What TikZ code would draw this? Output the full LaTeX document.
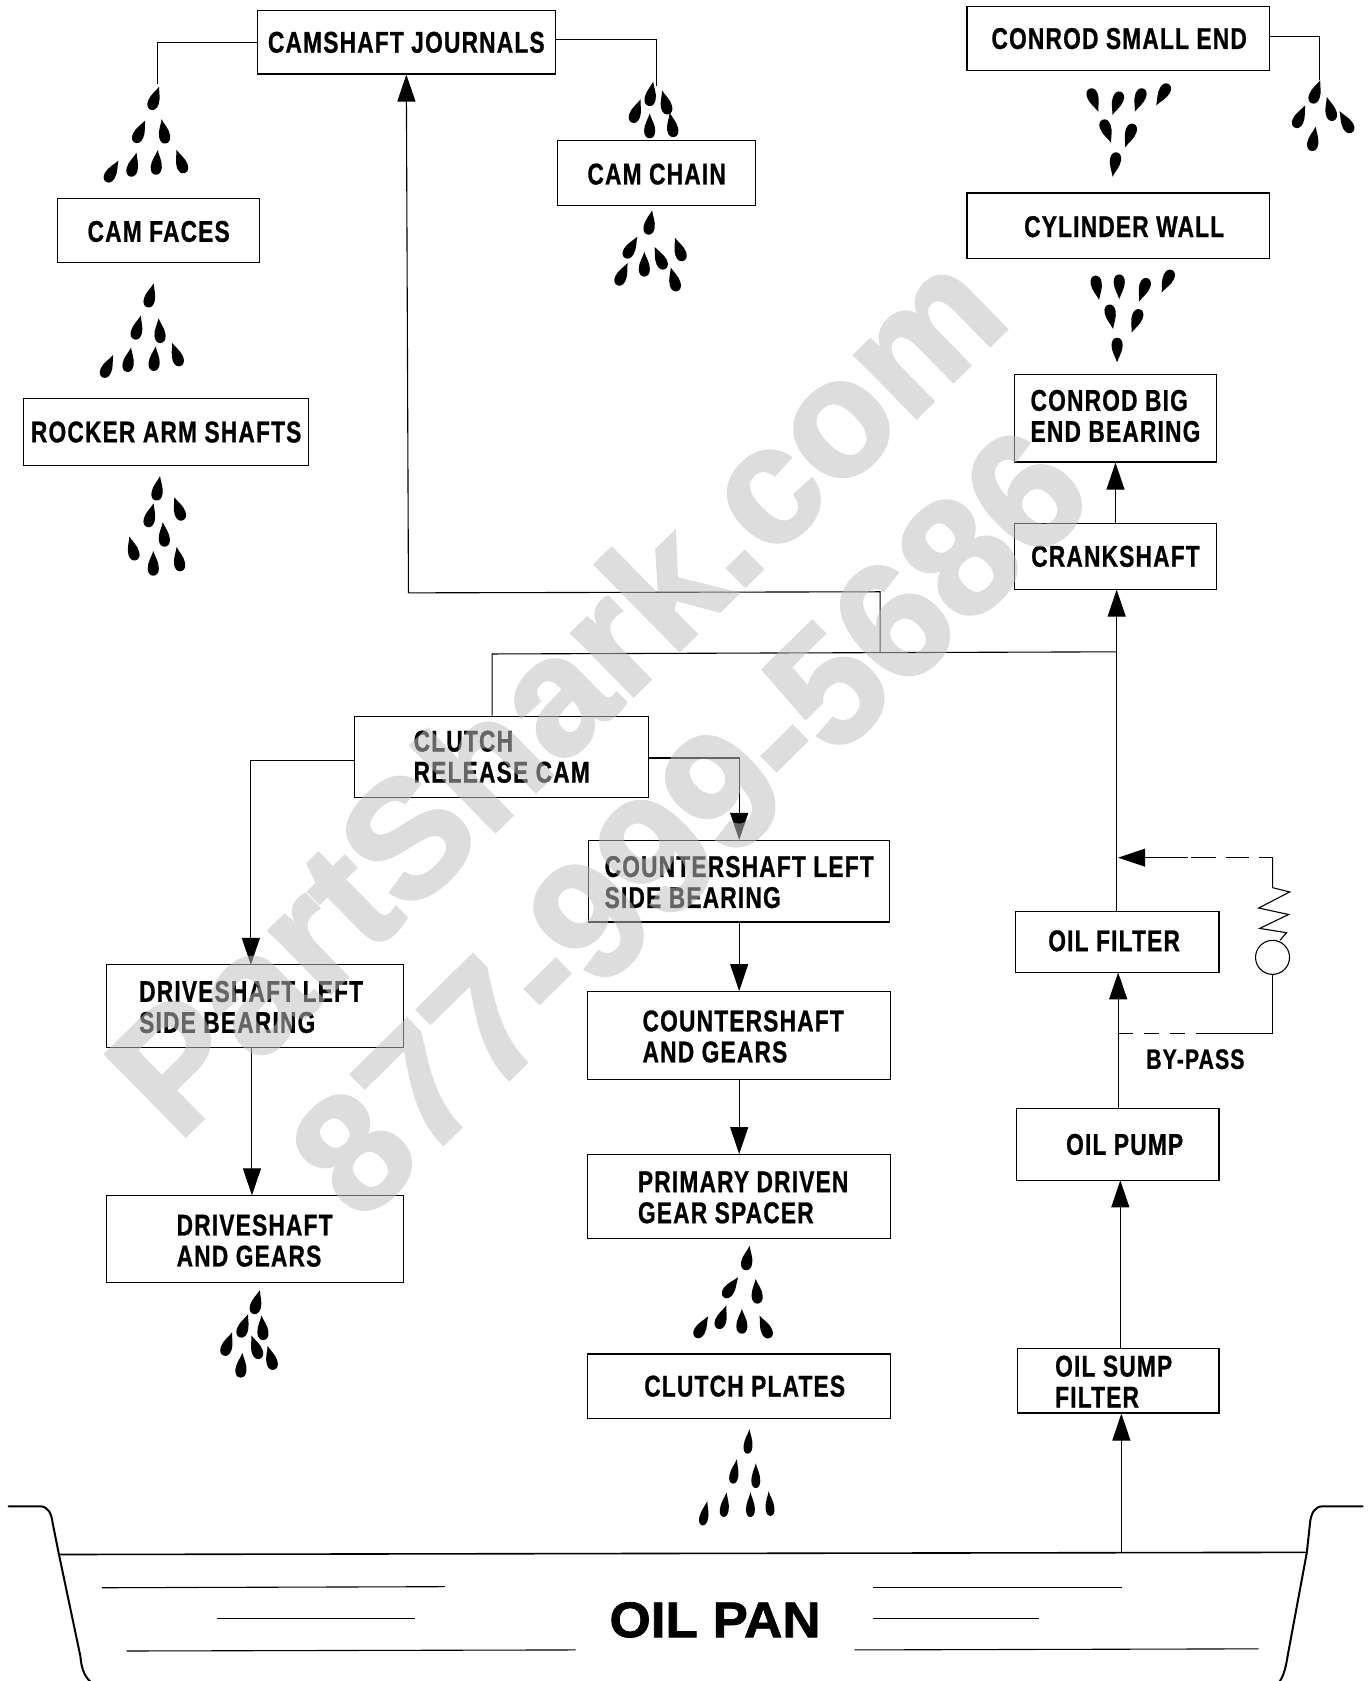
\documentclass[tikz,border=0pt]{standalone}
\usepackage{fontspec}
\setmainfont{Liberation Sans}[FakeStretch=0.757,LetterSpace=4,BoldFeatures={FakeBold=0.8}]
\newfontfamily\panfont{Liberation Sans}[FakeStretch=1.06,BoldFeatures={FakeBold=1.5}]
\newfontfamily\markfont{Liberation Sans}[BoldFeatures={FakeBold=2}]
\usetikzlibrary{arrows.meta,calc}
\tikzset{
  box/.style={draw=black,line width=1.15pt,inner sep=0pt,align=left,font=\fontsize{30}{31}\selectfont\bfseries,fill=white},
  flow/.style={draw=black,line width=1.1pt,-{Triangle[length=27pt,width=18pt]}},
  plainline/.style={draw=black,line width=1.1pt},
  dropfill/.style={fill=black,draw=none},
  panline/.style={draw=black,line width=2pt},
  liquid/.style={draw=black,line width=1.1pt},
  dashline/.style={draw=black,line width=1.1pt,dash pattern=on 15pt off 11pt},
  wmark/.style={font=\fontsize{166}{166}\selectfont\markfont\bfseries,text=black!25,inner sep=0pt,rotate=44.5}
}
\newcommand{\bx}[6]{\path let \n1={#4-#2},\n2={#5-#3} in
  node[box,minimum width=\n1*1.0719pt,minimum height=\n2*1.0719pt] (#1) at ({(#2+#4)/2},{(#3+#5)/2}) {#6};}
\newcommand{\low}[2]{\raisebox{-#1pt}[\height][\depth]{#2}}
\newcommand{\two}[2]{\begin{tabular}{@{}l@{}}#1\\#2\end{tabular}}
\def\dw{1}
\newcommand{\dropat}[3]{\path[dropfill,shift={(#1,#2)},rotate=-#3,xscale=\dw]
  (0,-13) .. controls (-1.5,-8) and (-5.2,-3) .. (-5.2,3) .. controls (-5.2,7.5) and (-3,10) .. (0,10)
  .. controls (3,10) and (5.2,7.5) .. (5.2,3) .. controls (5.2,-3) and (1.5,-8) .. (0,-13) -- cycle;}
\begin{document}
\begin{tikzpicture}[x=1.0719pt,y=-1.0719pt]
\useasboundingbox (0,0) rectangle (1279,1568);
\fill[white] (0,0) rectangle (1279,1568);
\clip (0,0) rectangle (1279,1568);
% boxes
\bx{cj}{240}{10}{518}{69}{CAMSHAFT JOURNALS}
\bx{cf}{54}{185}{242}{245}{\low{1}{CAM FACES}}
\bx{ra}{22}{372}{288}{434}{ROCKER ARM SHAFTS}
\bx{cc}{520}{131}{705}{192}{\low{1}{CAM CHAIN}}
\bx{cs}{902}{6}{1184}{66}{\kern2pt CONROD SMALL END}
\bx{cw}{902}{180}{1184}{241}{\kern12pt\low{1}{CYLINDER WALL}}
\bx{cb}{946}{349}{1135}{431}{\low{2}{\two{CONROD BIG}{END BEARING}}}
\bx{cr}{946}{488}{1135}{550}{CRANKSHAFT}
\bx{cl}{331}{668}{605}{744}{\low{4}{\two{CLUTCH}{RELEASE CAM}}}
\bx{cl2}{549}{784}{830}{860}{\low{5}{\two{COUNTERSHAFT LEFT}{SIDE BEARING}}}
\bx{cg}{548}{925}{831}{1007}{\kern8pt\low{5}{\two{COUNTERSHAFT}{AND GEARS}}}
\bx{dl}{99}{900}{376}{977}{\low{5}{\two{DRIVESHAFT LEFT}{SIDE BEARING}}\kern7pt}
\bx{dg}{99}{1115}{376}{1196}{\low{6}{\two{DRIVESHAFT}{AND GEARS}}}
\bx{pd}{548}{1077}{831}{1155}{\kern8pt\low{5}{\two{PRIMARY DRIVEN}{GEAR SPACER}}}
\bx{cp}{548}{1263}{831}{1323}{\kern11pt CLUTCH PLATES}
\bx{of}{947}{850}{1137}{907}{\low{-1}{OIL FILTER}\kern6pt}
\bx{op}{948}{1034}{1137}{1101}{\kern14pt OIL PUMP}
\bx{os}{949}{1258}{1137}{1318}{\low{5}{\two{OIL SUMP}{FILTER}}\kern9pt}
% free ends
\coordinate (camL) at (147,78);
\coordinate (camR) at (612,80);
\coordinate (smallR) at (1231,75);
\coordinate (panIn) at (1046,1449);
\coordinate (j1) at (1041.6,608);
\coordinate (j2) at (821,608);
\coordinate (j3) at (821,552);
\coordinate (j4) at (381,553);
\coordinate (j5) at (459,610);
\coordinate (byIn) at (1043,964);
\coordinate (byOut) at (1043,800);
\coordinate (byR) at (1188,964);
\coordinate (byT) at (1187,800);
% connectors
\draw[plainline] (cj.west) -| (camL);
\draw[plainline] (cj.east |- 0,37) -| (camR);
\draw[plainline] (cs.east |- 0,34) -| (smallR);
\draw[flow] (panIn) -- (panIn |- os.south);
\draw[flow] (1045,1258) -- (1045,1101);
\draw[flow] (1043,1034) -- (1043,907);
\draw[flow] (1041.6,850) -- (1041.6,550);
\draw[flow] (cr.north) -- (cb.south);
\draw[plainline] (j1) -- (j5) -- (cl.north -| j5);
\draw[plainline] (j2) -- (j3) -- (j4);
\draw[flow] (j4) -- (cj.south);
\draw[flow] (cl.west |- 0,709) -| (234,900);
\draw[flow] (cl.east |- 0,707) -| (cl2.north);
\draw[flow] (cl2.south) -- (cl2.south |- cg.north);
\draw[flow] (cl2.south |- cg.south) -- (cl2.south |- pd.north);
\draw[flow] (235,977) -- (235,1115);
% by-pass
\node[circle,draw=black,line width=1.1pt,minimum size=34pt,inner sep=0pt] (valve) at (1187,893) {};
\draw[plainline] (valve.south) -- (valve.south |- byR) -- (1130,964);
\draw[dashline] (byIn) -- (1130,964);
\path[draw=black,line width=1.1pt] (byT) -- (1187,828) -- (1203,832) -- (1174,847) -- (1202,853) -- (1175,866) -- (1200,870) -- (1194,877);
\draw[dashline,dash pattern=on 14pt off 10pt on 23pt off 10pt on 25pt off 13pt on 20pt off 0pt] (byT) -- (1108,800);
\draw[flow] (1108,800) -- (byOut);
\node[font=\fontsize{28}{29}\selectfont\bfseries,inner sep=0pt] (bypass) at (1115,988) {BY-PASS};
% drops
\foreach \a/\b/\t in {
 144/93/20,130/124/25,153/124/-10,104/161/30,124/155/15,146/153/5,169/152/-20,
 140/277/15,128/307/15,149/310/-5,100/343/25,120/337/10,144/336/5,165/332/-20,
 147/457/10,140/482/15,167/476/-20,153/500/-5,124/513/-15,143/527/0,167/523/-10,
 607/89/10,593/105/20,621/97/-15,606/119/0,627/118/-10,
 606/209/10,588/232/30,634/234/-20,616/242/-25,601/248/0,580/257/25,629/262/-15,
 1020/92/160,1042/95/200,1063/92/200,1085/87/210,1032/121/160,1054/125/200,1040/152/190,
 1227/87/20,1241/103/-15,1212/110/25,1256/115/-30,1225/131/10,
 1023/267/170,1044/266/180,1067/269/200,1089/261/205,1036/294/170,1060/298/200,1042/325/180,
 239/1216/15,227/1238/20,245/1240/-5,212/1255/20,239/1258/-20,253/1268/-15,225/1275/5,
 697/1175/10,681/1202/35,706/1206/-5,673/1230/20,692/1234/0,714/1239/-25,654/1239/30}
 {\dropat{\a}{\b}{\t}}
\def\dw{0.8}
\foreach \a/\b/\t in {698/1346/5,685/1374/10,705/1378/0,657/1413/12,676/1405/8,700/1405/0,718/1404/-5}
 {\dropat{\a}{\b}{\t}}
% oil pan
\draw[panline,line cap=round] (8,1405) -- (37,1405) .. controls (45,1405) and (48,1412) .. (49,1420) -- (55,1450) -- (75,1545) .. controls (76,1558) and (80,1568) .. (90,1572);
\draw[panline,line cap=round] (1271,1405) -- (1234,1405) .. controls (1226,1405) and (1223,1412) .. (1222,1420) -- (1219,1448) -- (1201,1545) .. controls (1199,1558) and (1196,1568) .. (1190,1572);
\draw[panline,line width=1.6pt] (55,1450) -- (1219,1448);
\draw[liquid] (95,1481) -- (415,1480);
\draw[liquid] (202,1510) -- (387,1510);
\draw[liquid] (118,1540) -- (537,1539);
\draw[liquid] (814,1481) -- (1047,1481);
\draw[liquid] (814,1510) -- (969,1510);
\draw[liquid] (797,1539) -- (1174,1538);
\node[font=\fontsize{50}{52}\selectfont\panfont\bfseries,inner sep=0pt] (panlabel) at (667,1511) {OIL PAN};
% watermark
\begin{scope}[transparency group,opacity=.53]
\node[wmark] (wm1) at (517,644) {PartShark.com};
\node[wmark] (wm2) at (643,767) {877-999-5686};
\end{scope}
\end{tikzpicture}
\end{document}
